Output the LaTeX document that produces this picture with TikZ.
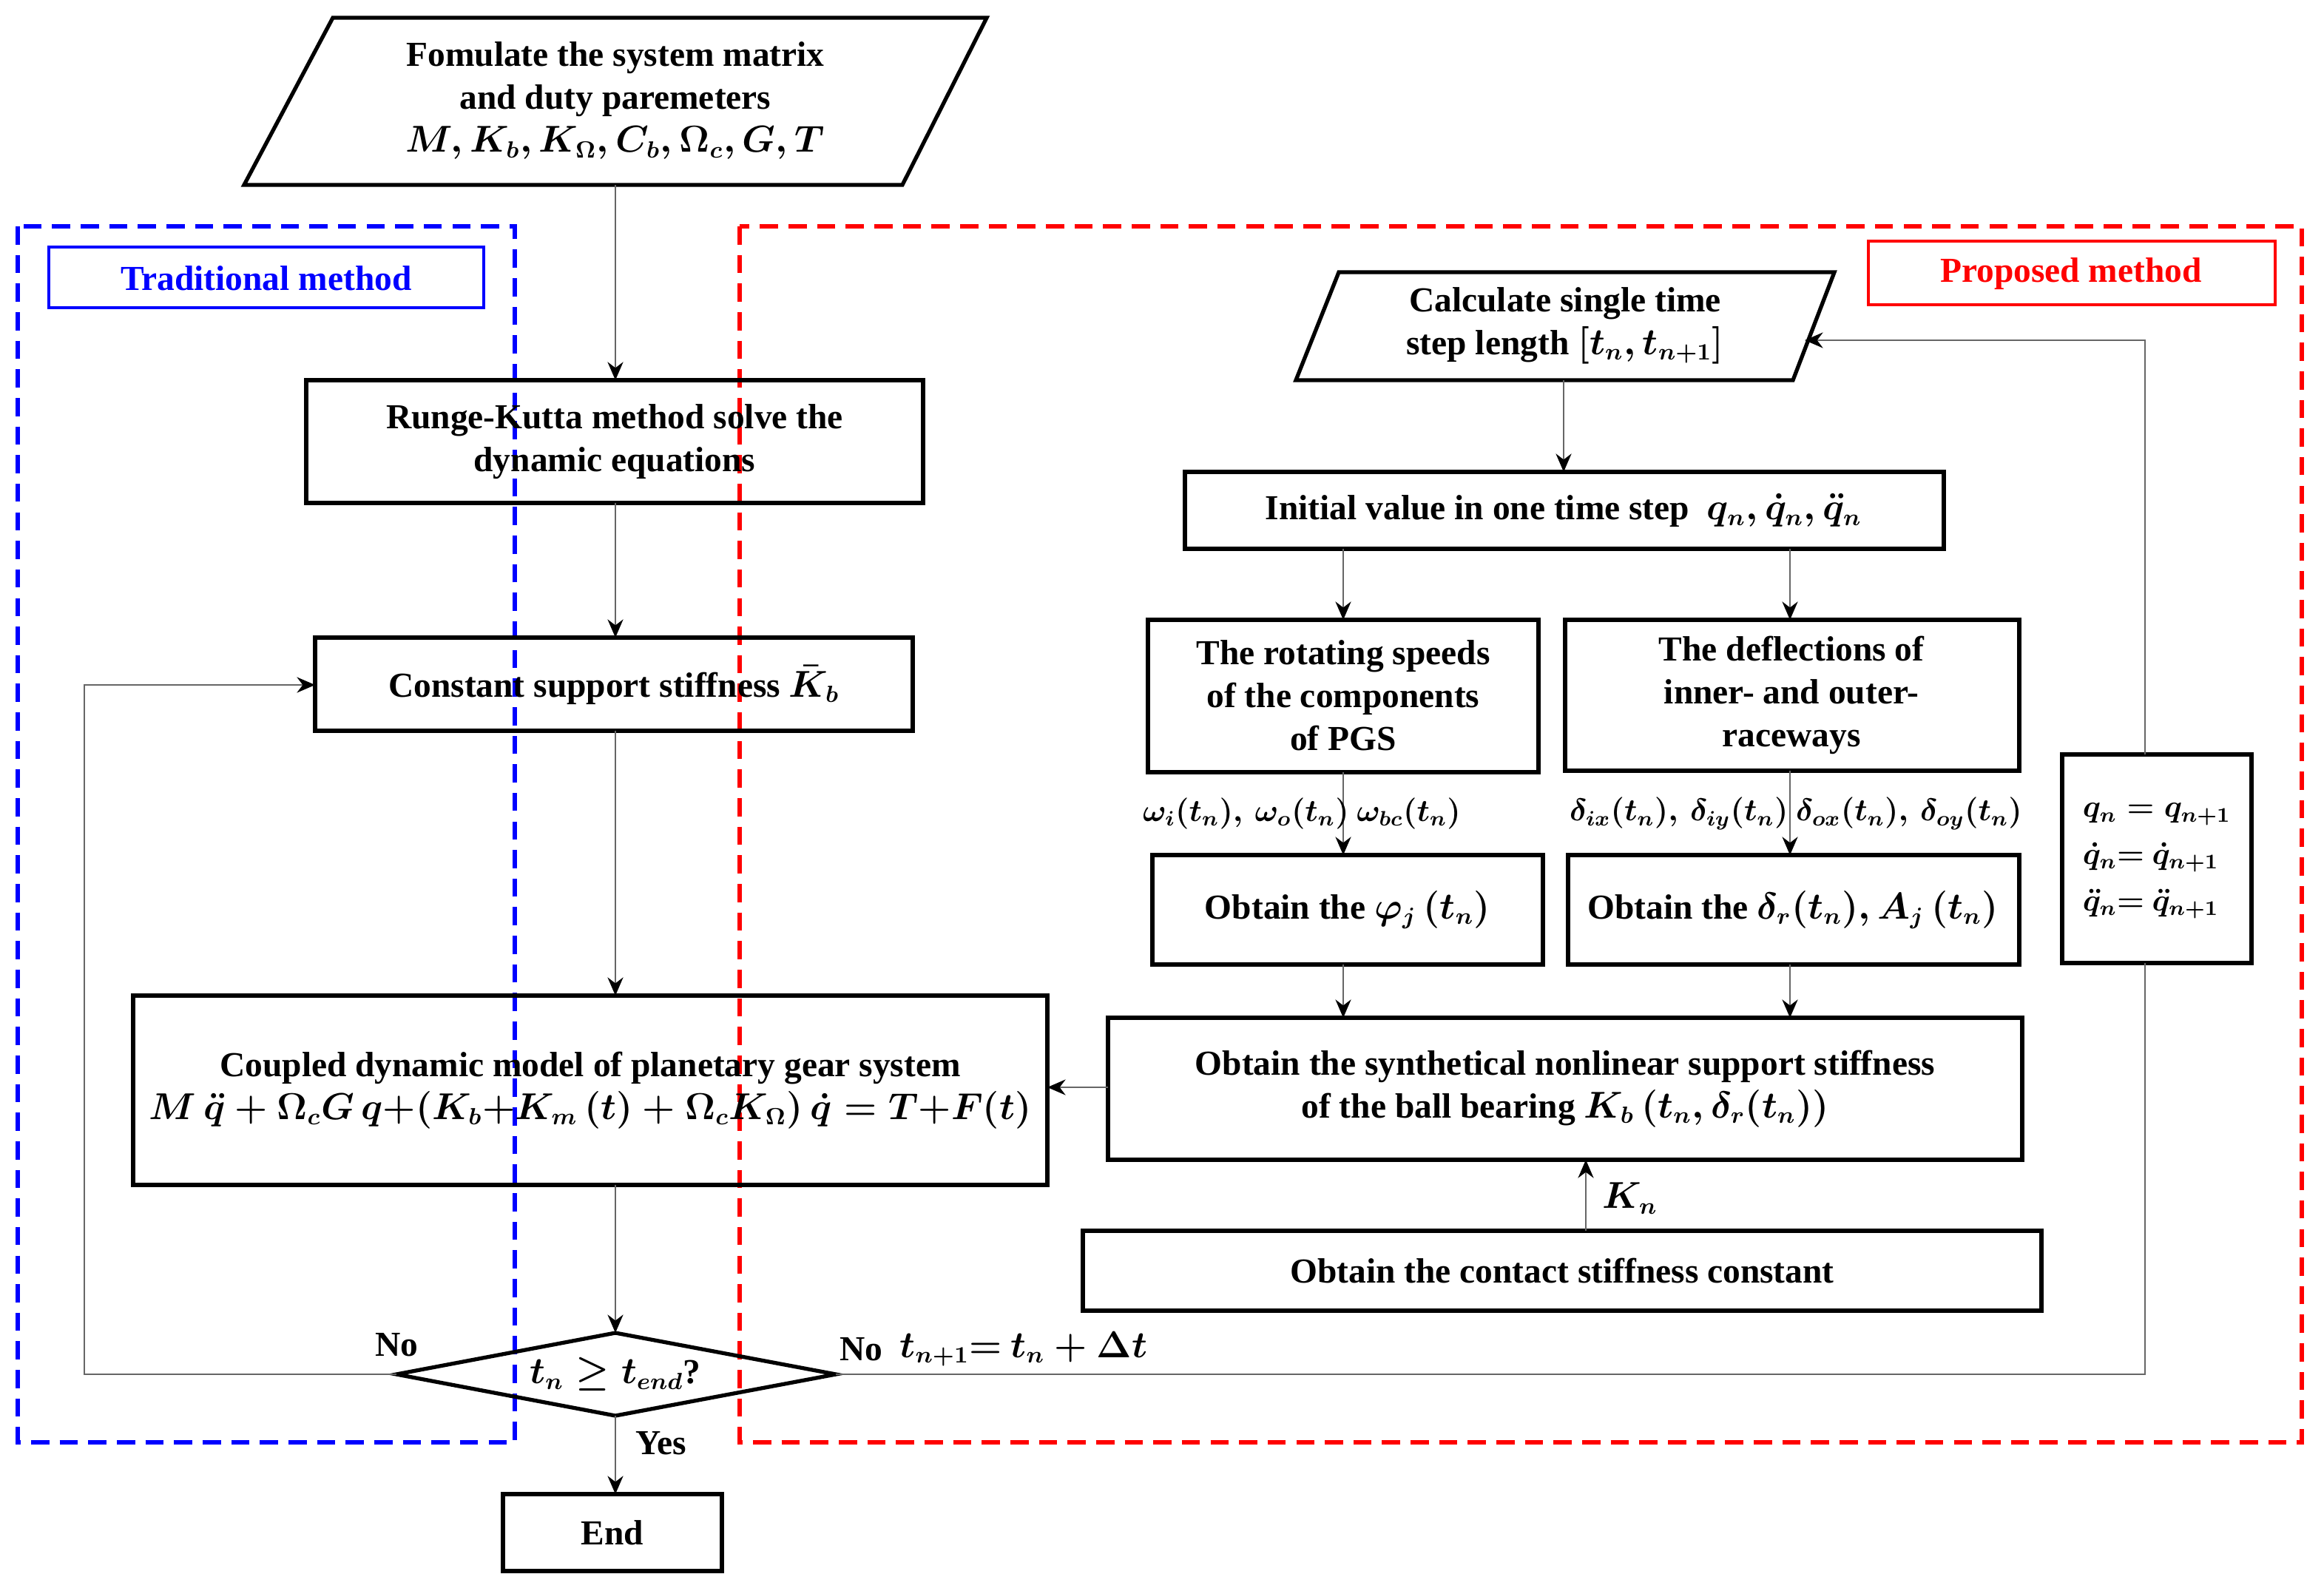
\documentclass[tikz,border=0pt]{standalone}
\usepackage{amsmath}
\usepackage{fontspec}
\setmainfont{Liberation Serif}
\usetikzlibrary{shapes.geometric,arrows.meta,calc}
\begin{document}
\begin{tikzpicture}[x=0.02cm,y=-0.02cm,
  font=\fontsize{13.5}{16.5}\selectfont\bfseries,
  small/.style={font=\fontsize{12}{14}\selectfont\bfseries},
  dsh/.style={dash pattern=on 7pt off 4pt,line width=1.5pt},
  con/.style={draw=gray!80!black,line width=0.7pt,-{Stealth[black,length=7pt,width=6pt]}}]
\useasboundingbox (0,0) rectangle (1571,1075);
% dashed frames
\draw[blue,dsh] (12,153) rectangle (348,975);
\draw[blue,line width=1.2pt] (33,167) rectangle (327,208);
\node[text=blue] (tlt) at (180,188) {Traditional method};
\draw[red,dsh] (500,153) rectangle (1556,975);
\draw[red,line width=1.2pt] (1263,163) rectangle (1538,206);
\node[text=red] (plt) at (1400,185) {Proposed method};
% top parallelogram
\draw[line width=1.5pt] (225,12) -- (667,12) -- (610,125) -- (165,125) -- cycle;
\node[align=center] (top) at (416,68) {Fomulate the system matrix\\and duty paremeters\\$\boldsymbol{M, K_b, K_\Omega, C_b, \Omega_c, G, T}$};
\draw[line width=1.5pt] (207,257) rectangle (624,340);
\node[align=center] (rkt) at (415.5,298.5) {Runge-Kutta method solve the\\dynamic equations};
\draw[line width=1.5pt] (213,431) rectangle (617,494);
\node (cst) at (415,463) {Constant support stiffness $\boldsymbol{\bar K_b}$};
\draw[line width=1.5pt] (90,673) rectangle (708,801);
\node[align=center] (cpl) at (399,737) {Coupled dynamic model of planetary gear system\\$\boldsymbol{M\,\ddot q + \Omega_c G\, q {+} (K_b{+}K_m\,(t) + \Omega_c K_\Omega)\,\dot q = T{+}F(t)}$};
\draw[line width=1.5pt] (268,929) -- (416,901) -- (565,929) -- (416,957) -- cycle;
\node (dia) at (416,929) {$\boldsymbol{t_n \ge t_{end}}$?};
\draw[line width=1.5pt] (340,1010) rectangle (488,1062);
\node (end) at (414,1036) {End};
% right side
\draw[line width=1.5pt] (905,184) -- (1240,184) -- (1212,257) -- (876,257) -- cycle;
\node[align=center] (calc) at (1058,220) {Calculate single time\\step length $\boldsymbol{[t_n, t_{n+1}]}$};
\draw[line width=1.5pt] (801,319) rectangle (1314,371);
\node (init) at (1057,345) {Initial value in one time step\ \ $\boldsymbol{q_n, \dot q_n, \ddot q_n}$};
\draw[line width=1.5pt] (776,419) rectangle (1040,522);
\node[align=center] (rot) at (908,470) {The rotating speeds\\of the components\\of PGS};
\draw[line width=1.5pt] (1058,419) rectangle (1365,521);
\node[align=center] (def) at (1211,470) {The deflections of\\inner- and outer-\\raceways};
\draw[line width=1.5pt] (779,578) rectangle (1043,652);
\node (phi) at (911,615) {Obtain the $\boldsymbol{\varphi_j\,(t_n)}$};
\draw[line width=1.5pt] (1060,578) rectangle (1365,652);
\node (dlt) at (1212,615) {Obtain the $\boldsymbol{\delta_r(t_n), A_j\,(t_n)}$};
\draw[line width=1.5pt] (749,688) rectangle (1367,784);
\node[align=center] (syn) at (1058,736) {Obtain the synthetical nonlinear support stiffness\\of the ball bearing $\boldsymbol{K_b\,(t_n, \delta_r(t_n))}$};
\draw[line width=1.5pt] (732,832) rectangle (1380,886);
\node (cnt) at (1056,859) {Obtain the contact stiffness constant};
\draw[line width=1.5pt,fill=white] (1394,510) rectangle (1522,651);
\node[small,align=left] (qb) at (1458,582) {$\boldsymbol{q_n = q_{n+1}}$\\[4pt]$\boldsymbol{\dot q_n {=}\ \dot q_{n+1}}$\\[4pt]$\boldsymbol{\ddot q_n {=}\ \ddot q_{n+1}}$};
% connectors
\draw[con] (416,125) -- (416,257);
\draw[con] (416,340) -- (416,431);
\draw[con] (416,494) -- (416,673);
\draw[con] (416,801) -- (416,901);
\draw[con] (416,957) -- (416,1010) node[pos=0.35,right=4pt] {Yes};
\draw[con] (268,929) -- (57,929) -- (57,463) -- (213,463);
\node (no1) at (268,909) {No};
\draw[draw=gray!80!black,line width=0.7pt] (565,929) -- (1450,929) -- (1450,651);
\draw[con] (1450,510) -- (1450,230) -- (1220,230);
\node (no2) at (582,912) {No};
\node (dt) at (692,912) {$\boldsymbol{t_{n+1}{=}\ t_n + \Delta t}$};
\draw[con] (1057,257) -- (1057,319);
\draw[con] (908,371) -- (908,419);
\draw[con] (1210,371) -- (1210,419);
\draw[con] (908,522) -- (908,578);
\draw[con] (1210,521) -- (1210,578);
\node[small] (wl) at (880,550) {$\boldsymbol{\omega_i(t_n),\,\omega_o(t_n)\ \omega_{bc}(t_n)}$};
\node[small] (dl) at (1214,550) {$\boldsymbol{\delta_{ix}(t_n),\,\delta_{iy}(t_n)\ \delta_{ox}(t_n),\,\delta_{oy}(t_n)}$};
\draw[con] (908,652) -- (908,688);
\draw[con] (1210,652) -- (1210,688);
\draw[con] (1072,832) -- (1072,784);
\node (kn) at (1102,810) {$\boldsymbol{K_n}$};
\draw[con] (749,735) -- (708,735);
\end{tikzpicture}
\end{document}
